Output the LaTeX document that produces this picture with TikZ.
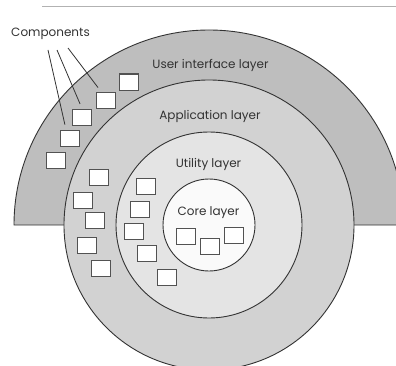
\documentclass[tikz,border=0pt]{standalone}
\usepackage{fontspec}
\setmainfont{Poppins}
\usepackage{tikz}
\usetikzlibrary{calc}
\definecolor{uiband}{HTML}{BEBEBE}
\definecolor{appband}{HTML}{D2D2D2}
\definecolor{utilband}{HTML}{E4E4E4}
\definecolor{coreband}{HTML}{FAFAFA}
\definecolor{ink}{HTML}{333333}
\tikzset{
  ring/.style={draw=ink, line width=0.9pt},
  comp/.style={draw=ink!85, line width=1pt, fill=white, minimum width=19pt, minimum height=16pt, inner sep=0pt},
  layer/.style={font=\fontsize{12}{14}\selectfont, text=ink, inner sep=1pt},
  leader/.style={draw=ink, line width=0.8pt, shorten >=5pt},
}
\newcommand{\comps}[2]{%
  \foreach \x/\y [count=\i] in {#2} {%
    \node[comp] (#1\i) at (\x,\y) {};
  }}

\begin{document}
\begin{tikzpicture}[x=1pt,y=1pt]
  \useasboundingbox (0,0) rectangle (396,365);
  \clip (0,0) rectangle (396,365);
  \fill[white] (0,0) rectangle (396,365);
  \draw[gray!60, line width=1pt] (42,358) -- (396,358);
  \coordinate (c) at (209,140);
  % layers, outside in
  \filldraw[ring, fill=uiband] ($(c)+(-195,0)$) arc[start angle=180, end angle=0, radius=195] -- cycle;
  \filldraw[ring, fill=appband] (c) circle[radius=145];
  \filldraw[ring, fill=utilband] (c) circle[radius=93];
  \filldraw[ring, fill=coreband] (c) circle[radius=46];
  \node[layer] (uilbl) at (210.5,300) {User interface layer};
  \node[layer] (applbl) at (210,249) {Application layer};
  \node[layer] (utillbl) at (208.5,201) {Utility layer};
  \node[layer] (corelbl) at (208.5,152) {Core layer};
  % components
  \comps{ui}{129/283, 106/265, 82/248, 70/227, 56/205}
  \comps{app}{99/188, 83/165, 95/145, 87/120, 101/97}
  \comps{util}{146/179, 140/156, 134/134, 147/112, 167/88}
  \comps{core}{186/129, 210/119, 234/130}
  \node[layer] (complbl) at (50.5,331) {Components};
  \draw[leader] ($(complbl.center)+(-2.5,-16)$) -- ($(ui4.north)+(-4,0)$);
  \draw[leader] ($(complbl.center)+(6.5,-16)$) -- (ui3.north);
  \draw[leader] ($(complbl.center)+(17.5,-14)$) -- ($(ui2.north)+(-5,0)$);
\end{tikzpicture}
\end{document}
